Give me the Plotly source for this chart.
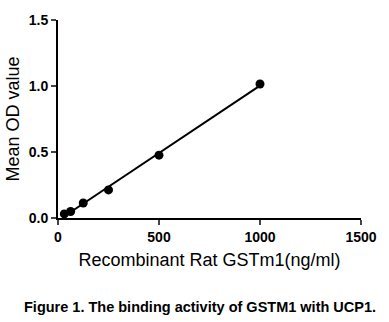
import numpy as np
import plotly.graph_objects as go

conc = [31.25, 62.5, 125, 250, 500, 1000]
od = [0.031, 0.049, 0.114, 0.213, 0.476, 1.015]
x_ticks = [0, 500, 1000, 1500]
y_ticks = [0.0, 0.5, 1.0, 1.5]
y_tick_text = ["0.0", "0.5", "1.0", "1.5"]

slope, intercept = np.polyfit(conc, od, 1)
fit_x = [min(conc), max(conc)]
fit_y = [slope * v + intercept for v in fit_x]

FONT = "Liberation Sans, Arial, sans-serif"

fig = go.Figure()
fig.add_trace(go.Scatter(x=fit_x, y=fit_y, mode="lines",
                         line=dict(color="black", width=2), showlegend=False))
fig.add_trace(go.Scatter(x=conc, y=od, mode="markers",
                         marker=dict(color="black", size=9), showlegend=False))

fig.update_layout(
    width=389, height=322,
    margin=dict(l=56, r=23, t=12, b=104),
    paper_bgcolor="white", plot_bgcolor="white",
    font=dict(family=FONT, color="black"),
)
fig.update_xaxes(
    range=[0, 1500], tickvals=x_ticks, ticks="outside", ticklen=5, tickwidth=2,
    showline=True, linewidth=2, linecolor="black", showgrid=False, zeroline=False,
    tickfont=dict(size=14, family=FONT, weight="bold"),
    title=dict(text="Recombinant Rat GSTm1(ng/ml)", font=dict(size=18, family=FONT), standoff=10),
)
fig.update_yaxes(
    range=[0, 1.5], tickvals=y_ticks, ticktext=y_tick_text, ticks="outside", ticklen=5, tickwidth=2,
    showline=True, linewidth=2, linecolor="black", showgrid=False, zeroline=False,
    tickfont=dict(size=14, family=FONT, weight="bold"),
    title=dict(text="Mean OD value", font=dict(size=18, family=FONT), standoff=4),
)
fig.add_annotation(
    text="<b>Figure 1. The binding activity of GSTM1 with UCP1.</b>",
    xref="paper", yref="paper", x=0.5, y=0, xshift=-10, yshift=-89, xanchor="center", yanchor="middle",
    showarrow=False, font=dict(size=14.5, family=FONT, color="black"),
)

fig.write_html("out.html")
